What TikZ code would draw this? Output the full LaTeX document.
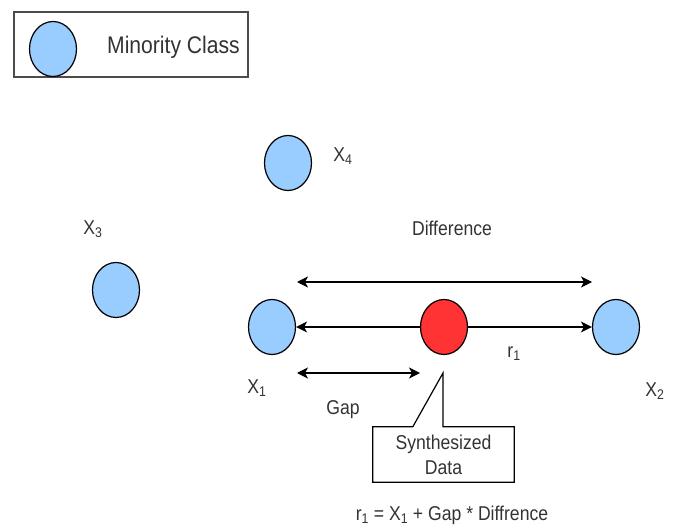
\documentclass[tikz,border=0pt]{standalone}
\usepackage{fontspec}
\setmainfont{Liberation Sans}
\usepackage{xcolor}
\usetikzlibrary{positioning,arrows.meta,shapes.geometric,calc}

\definecolor{minority}{HTML}{99CCFF}
\definecolor{synthred}{HTML}{FF3333}
\definecolor{txtgray}{HTML}{333333}

\begin{document}
\begin{tikzpicture}[x=1pt, y=-1pt,
        sample/.style={
            ellipse, draw, line width=1.2pt, fill=minority,
            minimum width=47pt, minimum height=55pt, inner sep=0pt
        },
        synth/.style={sample, fill=synthred},
        lbl/.style={font=\fontsize{20}{23}\selectfont, text=txtgray, inner sep=0pt,
            xscale=0.88, transform shape},
        flow/.style={-{Stealth[length=11pt,width=11pt,inset=3pt]}, line width=1.3pt},
        span/.style={{Stealth[length=11pt,width=11pt,inset=3pt]}-{Stealth[length=11pt,width=11pt,inset=3pt]}, line width=1.3pt}
    ]
        \useasboundingbox (0,0) rectangle (678,529);

        % legend
        \node[draw=black!70, line width=1.5pt, minimum width=234pt, minimum height=65pt,
              inner sep=0pt] (legend) at (131,44.5) {};
        \node[sample] (legdot) at (53,49) {};
        \node[lbl, font=\fontsize{24}{27}\selectfont, anchor=west] (legtext) at (107,47) {Minority Class};

        % minority samples
        \node[sample] (x4) at (288,163) {};
        \node[sample] (x3) at (116,290) {};
        \node[sample] (x1) at (272,327) {};
        \node[sample] (x2) at (616,327) {};
        \node[synth] (r1) at (444,327) {};

        \node[lbl] (x4lbl) at (343,156) {X\textsubscript{4}};
        \node[lbl] (x3lbl) at (93,229) {X\textsubscript{3}};
        \node[lbl] (x1lbl) at (257,388) {X\textsubscript{1}};
        \node[lbl] (x2lbl) at (655,391) {X\textsubscript{2}};
        \node[lbl] (r1lbl) at (514,354) {r\textsubscript{1}};

        % difference and gap
        \coordinate (diffL) at (297,282);
        \coordinate (diffR) at (592,282);
        \coordinate (gapL) at (297,373);
        \coordinate (gapR) at (420,373);
        \node[lbl] (difflbl) at (452,228) {Difference};
        \node[lbl] (gaplbl) at (343,410) {Gap};

        \draw[span] (diffL) -- (diffR);
        \draw[span] (gapL) -- (gapR);
        \draw[flow] (r1) -- (x1);
        \draw[flow] (r1) -- (x2);

        % callout
        \node[minimum width=141pt, minimum height=55pt, inner sep=0pt] (note) at (443.5,454.5) {};
        \node[lbl, align=center, font=\fontsize{20}{25}\selectfont] (notetext) at (note.center) {Synthesized\\Data};
        \coordinate (tip) at (443,373);
        \draw[line width=1.2pt] (note.north west) -- ($(note.north west)+(40,0)$) -- (tip)
            -- (tip |- note.north) -- (note.north east) -- (note.south east)
            -- (note.south west) -- cycle;

        \node[lbl] (formula) at (452,515) {r\textsubscript{1} = X\textsubscript{1} + Gap * Diffrence};
\end{tikzpicture}
\end{document}
